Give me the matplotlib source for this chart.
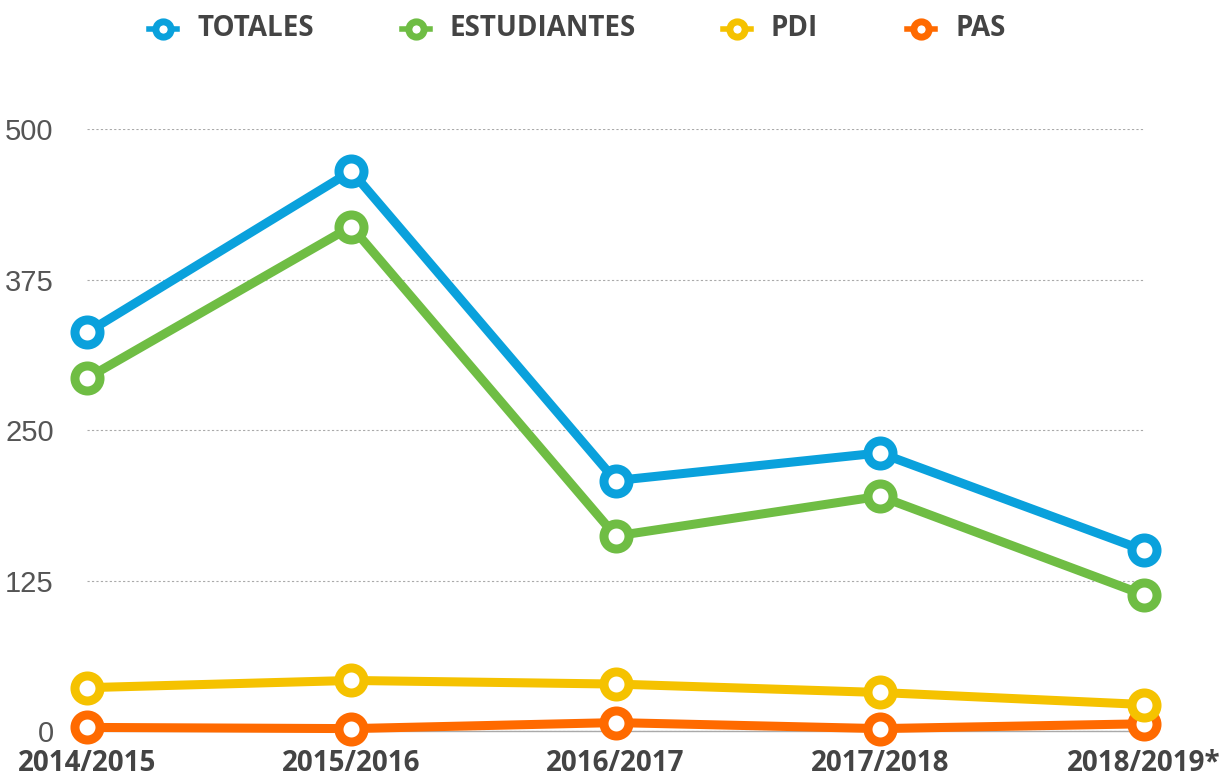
import matplotlib.pyplot as plt
from matplotlib.lines import Line2D

# Data
years = ["2014/2015", "2015/2016", "2016/2017", "2017/2018", "2018/2019*"]
totales = [331, 465, 208, 231, 150]
estudiantes = [293, 419, 162, 195, 113]
pdi = [36, 42, 39, 32, 22]
pas = [3, 2, 7, 2, 6]

series = [
    ("TOTALES", totales, "#0aa1dc"),
    ("ESTUDIANTES", estudiantes, "#6fbd44"),
    ("PAS", pas, "#ff6a00"),
    ("PDI", pdi, "#f5c200"),
]
legend_order = ["TOTALES", "ESTUDIANTES", "PDI", "PAS"]
colors = {name: color for name, _, color in series}

W, H = 1221, 780
fig = plt.figure(figsize=(W / 100, H / 100), dpi=100)
fig.patch.set_facecolor("white")
ax = fig.add_axes([0.0713, 0.0628, 0.8658, 0.7718])

x = list(range(len(years)))
for i, (name, vals, color) in enumerate(series):
    ax.plot(x, vals, color=color, lw=6.5, marker="o", markersize=18,
            markerfacecolor="white", markeredgecolor=color, markeredgewidth=6.5,
            clip_on=False, zorder=3 + i, solid_capstyle="round")

ax.set_xlim(0, len(years) - 1)
ax.set_ylim(0, 500)
ax.set_yticks([0, 125, 250, 375, 500])
ax.set_xticks(x)
ax.set_xticklabels(years, fontfamily="Open Sans", fontweight="bold",
                   fontsize=20, color="#444444")
for t in ax.get_yticklabels():
    t.set_fontfamily("Liberation Sans")
    t.set_fontsize(21)
    t.set_color("#555555")
ax.tick_params(axis="both", length=0)
ax.tick_params(axis="y", pad=24)
ax.tick_params(axis="x", pad=13)

ax.grid(axis="y", color="#aaaaaa", linestyle=(0, (2, 2)), lw=0.8)
ax.set_axisbelow(True)
for side in ["top", "right", "left"]:
    ax.spines[side].set_visible(False)
ax.spines["bottom"].set_color("#aaaaaa")
ax.spines["bottom"].set_linewidth(1)

# Legend drawn by hand: marker centre x (px) for each entry
leg_x = [163, 416, 737, 921]
leg_y = 1 - 29 / H
for name, px in zip(legend_order, leg_x):
    c = colors[name]
    fig.add_artist(Line2D([(px - 14) / W, (px + 14) / W], [leg_y, leg_y],
                          transform=fig.transFigure, color=c, lw=4))
    fig.add_artist(Line2D([px / W], [leg_y], transform=fig.transFigure,
                          marker="o", markersize=11, markerfacecolor="white",
                          markeredgecolor=c, markeredgewidth=5, lw=0))
    fig.text((px + 34) / W, leg_y, name, ha="left", va="center",
             fontfamily="Open Sans", fontweight="bold", fontsize=20,
             color="#444444")

fig.savefig("out.png", dpi=100, facecolor="white")
